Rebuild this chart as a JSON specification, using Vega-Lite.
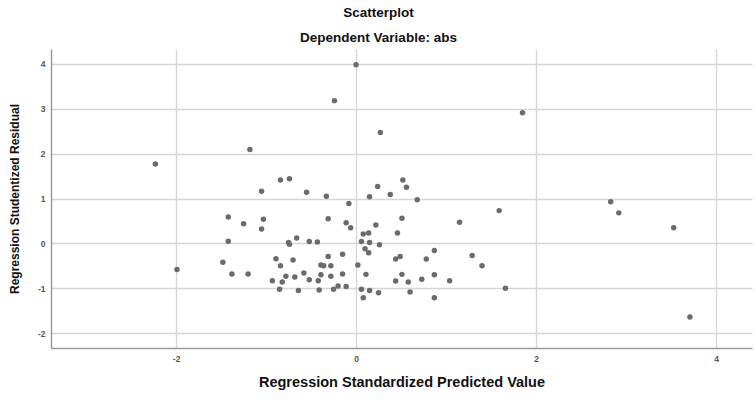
{
  "$schema": "https://vega.github.io/schema/vega-lite/v6.json",
  "width": 701,
  "height": 299,
  "autosize": {"type": "none"},
  "padding": {"left": 51, "top": 49, "right": 3, "bottom": 53},
  "background": "white",
  "config": {
    "view": {"stroke": null},
    "font": "Liberation Sans"
  },
  "title": {
    "text": ["Scatterplot", "Dependent Variable: abs"],
    "fontSize": 13.5,
    "fontWeight": "bold",
    "font": "Liberation Sans",
    "color": "#111111",
    "lineHeight": 25,
    "anchor": "middle",
    "dx": -23,
    "offset": 5
  },
  "data": {
    "values": [
      {"pred": -2.23, "resid": 1.77},
      {"pred": -1.99, "resid": -0.58},
      {"pred": -1.18, "resid": 2.09},
      {"pred": -0.24, "resid": 3.18},
      {"pred": 0.00, "resid": 3.98},
      {"pred": 0.27, "resid": 2.47},
      {"pred": 1.85, "resid": 2.91},
      {"pred": -1.05, "resid": 1.16},
      {"pred": -0.84, "resid": 1.41},
      {"pred": -0.74, "resid": 1.44},
      {"pred": -0.55, "resid": 1.14},
      {"pred": -1.42, "resid": 0.59},
      {"pred": -1.25, "resid": 0.44},
      {"pred": -1.03, "resid": 0.54},
      {"pred": -1.05, "resid": 0.32},
      {"pred": -1.42, "resid": 0.05},
      {"pred": -0.75, "resid": 0.02},
      {"pred": -0.74, "resid": -0.02},
      {"pred": -0.66, "resid": 0.12},
      {"pred": -0.52, "resid": 0.04},
      {"pred": -0.43, "resid": 0.03},
      {"pred": -1.48, "resid": -0.42},
      {"pred": -1.38, "resid": -0.68},
      {"pred": -1.20, "resid": -0.68},
      {"pred": -0.89, "resid": -0.34},
      {"pred": -0.84, "resid": -0.50},
      {"pred": -0.70, "resid": -0.37},
      {"pred": -0.58, "resid": -0.66},
      {"pred": -0.78, "resid": -0.73},
      {"pred": -0.68, "resid": -0.75},
      {"pred": -0.93, "resid": -0.83},
      {"pred": -0.82, "resid": -0.86},
      {"pred": -0.52, "resid": -0.81},
      {"pred": -0.42, "resid": -0.83},
      {"pred": -0.85, "resid": -1.02},
      {"pred": -0.64, "resid": -1.05},
      {"pred": -0.41, "resid": -1.04},
      {"pred": -0.39, "resid": -0.70},
      {"pred": 0.06, "resid": 0.04},
      {"pred": 0.15, "resid": 0.02},
      {"pred": 0.26, "resid": -0.03},
      {"pred": 0.10, "resid": -0.12},
      {"pred": 0.14, "resid": -0.21},
      {"pred": -0.31, "resid": -0.29},
      {"pred": -0.15, "resid": -0.24},
      {"pred": -0.39, "resid": -0.48},
      {"pred": -0.36, "resid": -0.50},
      {"pred": -0.28, "resid": -0.50},
      {"pred": 0.02, "resid": -0.48},
      {"pred": 0.44, "resid": -0.35},
      {"pred": 0.49, "resid": -0.29},
      {"pred": 0.78, "resid": -0.35},
      {"pred": -0.28, "resid": -0.73},
      {"pred": -0.15, "resid": -0.68},
      {"pred": 0.11, "resid": -0.69},
      {"pred": 0.51, "resid": -0.69},
      {"pred": 0.44, "resid": -0.84},
      {"pred": 0.58, "resid": -0.86},
      {"pred": 0.73, "resid": -0.80},
      {"pred": -0.25, "resid": -1.02},
      {"pred": -0.20, "resid": -0.95},
      {"pred": -0.11, "resid": -0.96},
      {"pred": 0.06, "resid": -1.02},
      {"pred": 0.15, "resid": -1.05},
      {"pred": 0.25, "resid": -1.10},
      {"pred": 0.08, "resid": -1.21},
      {"pred": 0.60, "resid": -1.08},
      {"pred": -0.33, "resid": 1.05},
      {"pred": -0.08, "resid": 0.89},
      {"pred": 0.24, "resid": 1.27},
      {"pred": 0.15, "resid": 1.04},
      {"pred": 0.38, "resid": 1.09},
      {"pred": 0.52, "resid": 1.41},
      {"pred": 0.56, "resid": 1.25},
      {"pred": 0.68, "resid": 0.97},
      {"pred": -0.31, "resid": 0.55},
      {"pred": -0.11, "resid": 0.46},
      {"pred": -0.06, "resid": 0.35},
      {"pred": 0.22, "resid": 0.41},
      {"pred": 0.51, "resid": 0.56},
      {"pred": 0.46, "resid": 0.23},
      {"pred": 0.08, "resid": 0.21},
      {"pred": 0.14, "resid": 0.23},
      {"pred": 1.59, "resid": 0.73},
      {"pred": 1.15, "resid": 0.47},
      {"pred": 0.87, "resid": -0.16},
      {"pred": 1.29, "resid": -0.27},
      {"pred": 1.40, "resid": -0.50},
      {"pred": 0.87, "resid": -0.70},
      {"pred": 1.04, "resid": -0.83},
      {"pred": 1.66, "resid": -1.00},
      {"pred": 0.87, "resid": -1.21},
      {"pred": 2.83, "resid": 0.93},
      {"pred": 2.92, "resid": 0.68},
      {"pred": 3.53, "resid": 0.35},
      {"pred": 3.71, "resid": -1.64}
    ]
  },
  "mark": {"type": "circle", "size": 30, "color": "#6b6b6b", "opacity": 1},
  "encoding": {
    "x": {
      "field": "pred",
      "type": "quantitative",
      "scale": {"domain": [-3.39, 4.4], "nice": false, "zero": false},
      "axis": {
        "title": "Regression Standardized Predicted Value",
        "values": [-2, 0, 2, 4],
        "labelExpr": "'' + datum.value",
        "ticks": false,
        "labelPadding": 6,
        "labelFontSize": 8.5,
        "labelFontWeight": "bold",
        "labelColor": "#555555",
        "labelFont": "Liberation Sans",
        "domainColor": "#9a9a9a",
        "domainWidth": 1.5,
        "gridColor": "#d6d6d6",
        "gridWidth": 1.3,
        "titleFontSize": 14.5,
        "titleFontWeight": "bold",
        "titleColor": "#111111",
        "titleFont": "Liberation Sans",
        "titlePadding": 13
      }
    },
    "y": {
      "field": "resid",
      "type": "quantitative",
      "scale": {"domain": [-2.33, 4.33], "nice": false, "zero": false},
      "axis": {
        "title": "Regression Studentized Residual",
        "values": [-2, -1, 0, 1, 2, 3, 4],
        "labelExpr": "'' + datum.value",
        "ticks": false,
        "labelPadding": 6,
        "labelFontSize": 8.5,
        "labelFontWeight": "bold",
        "labelColor": "#555555",
        "labelFont": "Liberation Sans",
        "domainColor": "#9a9a9a",
        "domainWidth": 1.5,
        "gridColor": "#d6d6d6",
        "gridWidth": 1.3,
        "titleFontSize": 12,
        "titleFontWeight": "bold",
        "titleColor": "#111111",
        "titleFont": "Liberation Sans",
        "titlePadding": 16
      }
    }
  }
}
